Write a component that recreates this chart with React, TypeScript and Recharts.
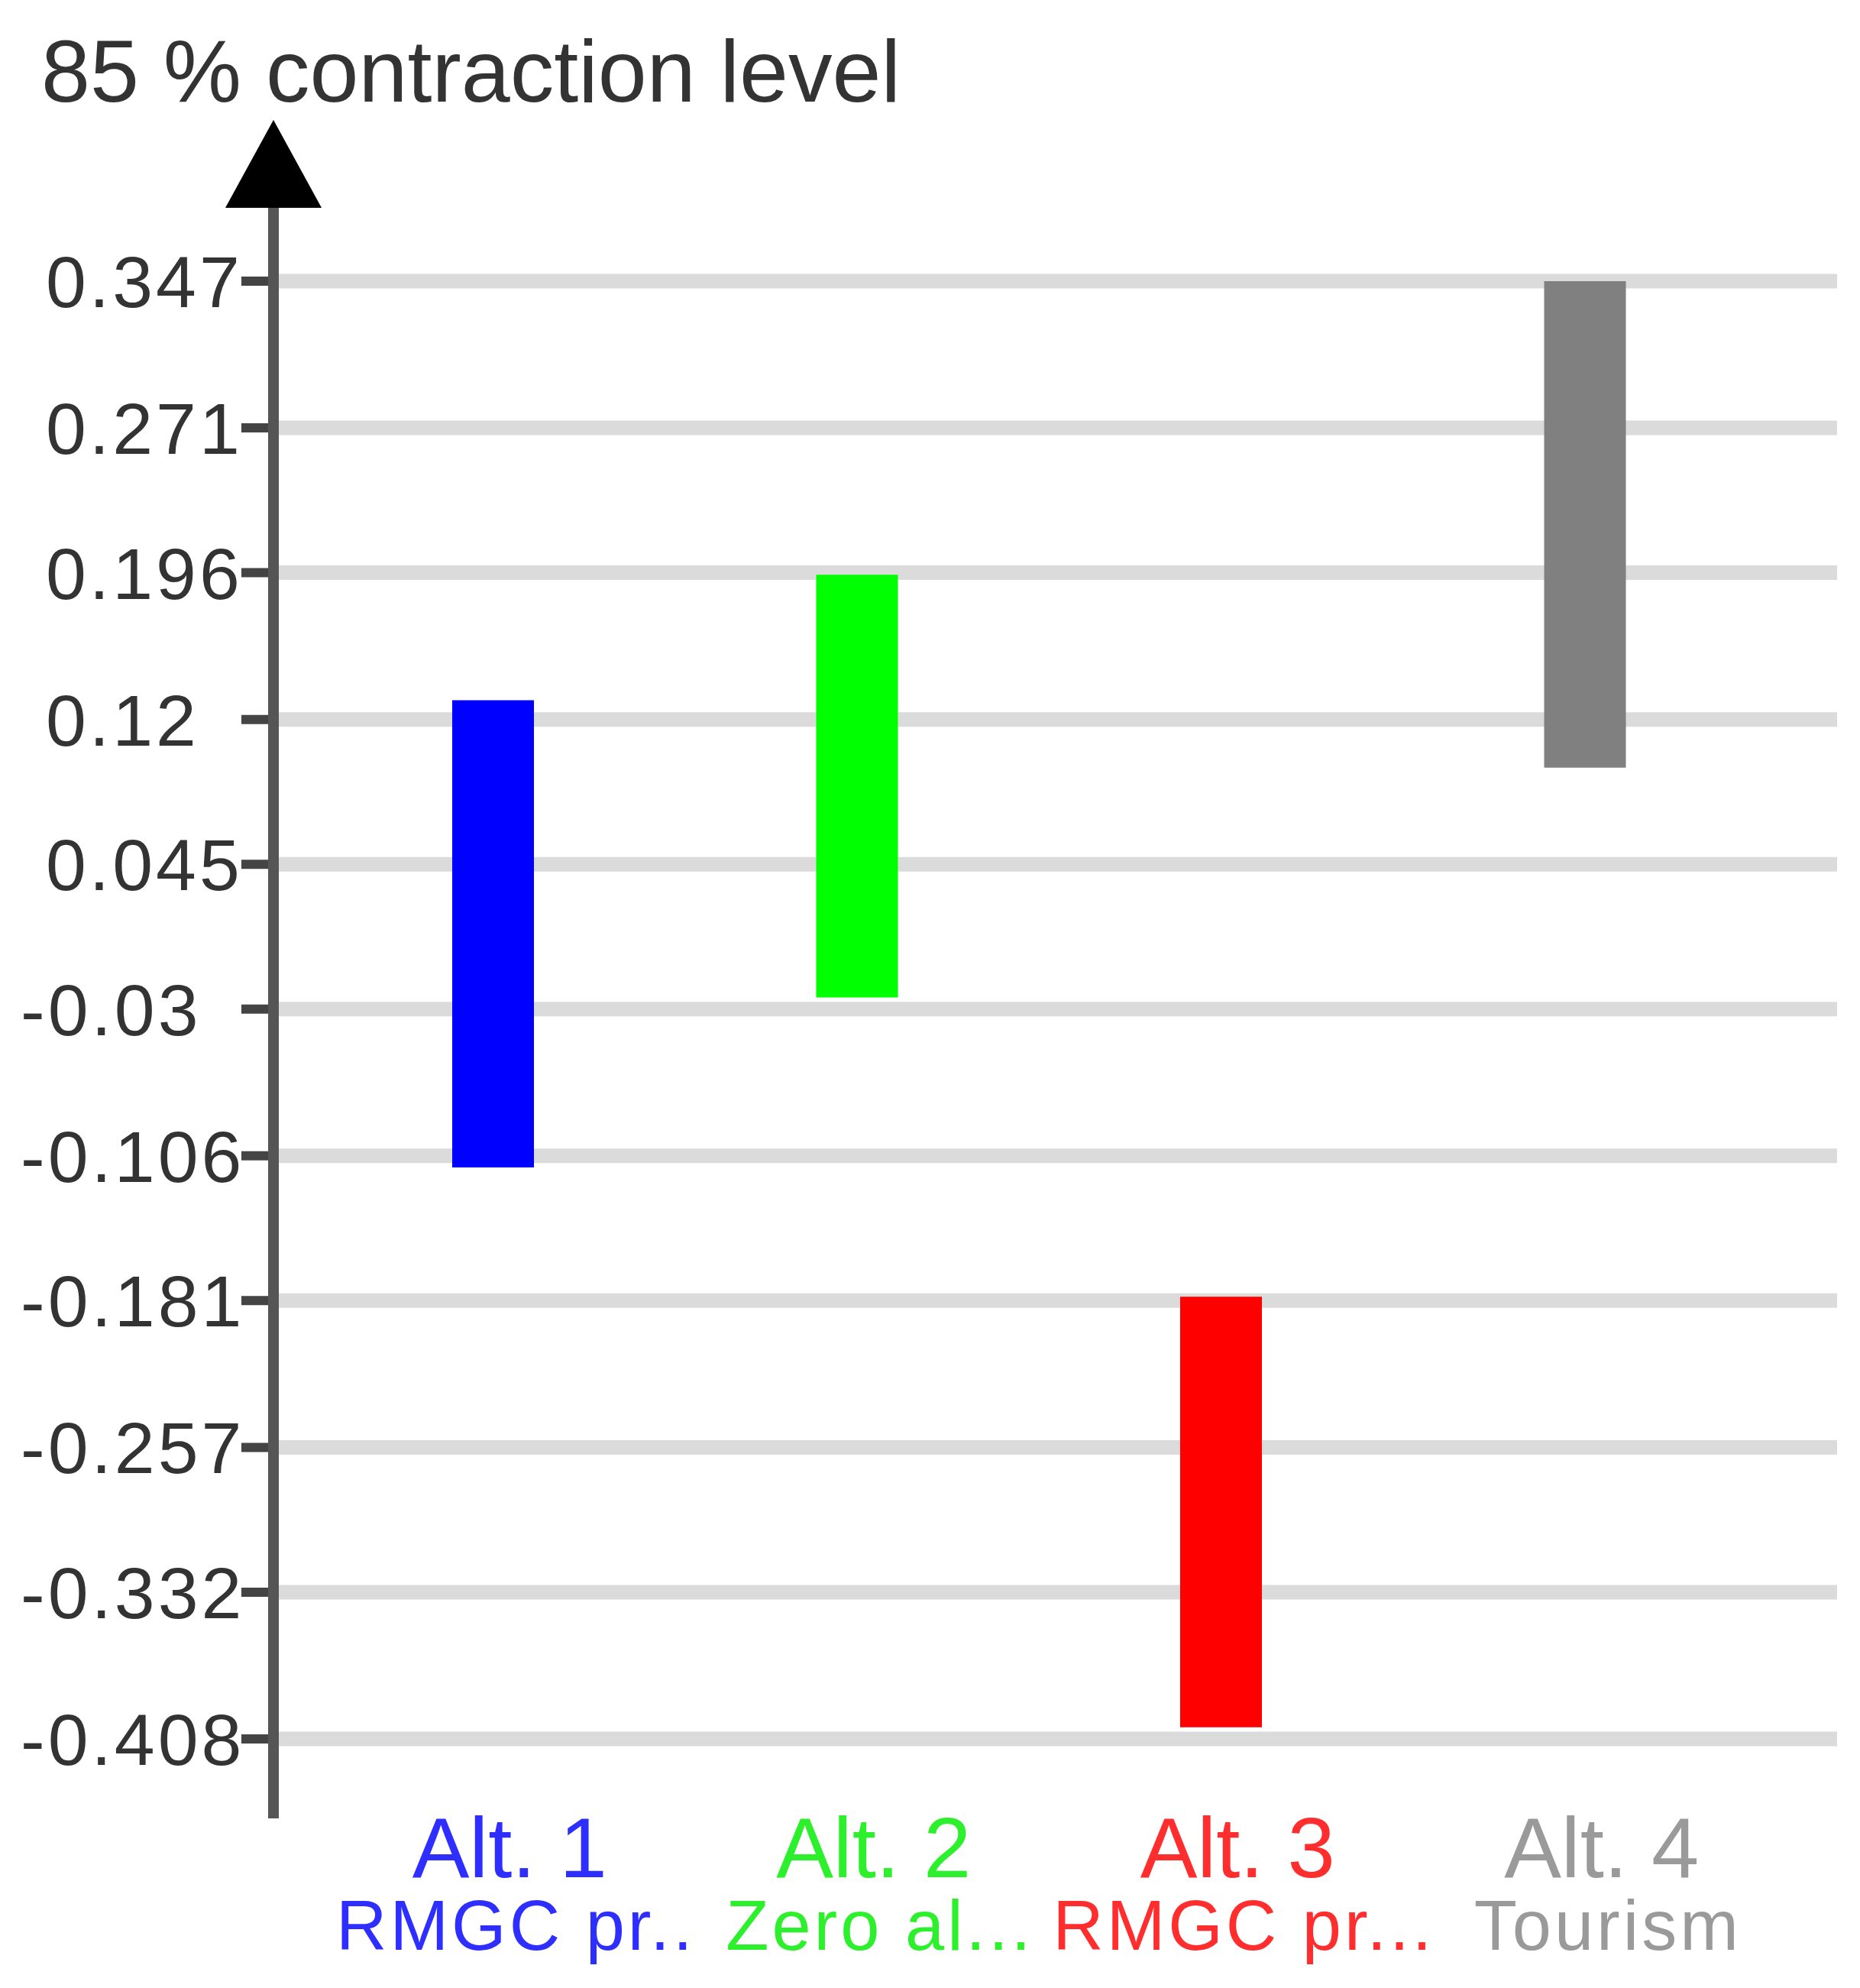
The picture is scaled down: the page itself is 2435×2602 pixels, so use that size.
import React from "react";
import { BarChart, Bar, XAxis, YAxis, CartesianGrid, Cell } from "recharts";

// Alternatives and their 85 % contraction intervals
const categories = ["Alt. 1", "Alt. 2", "Alt. 3", "Alt. 4"];
const subtitles = ["RMGC pr..", "Zero al...", "RMGC pr...", "Tourism"];
const lowValues = [-0.112, -0.024, -0.402, 0.095];
const highValues = [0.13, 0.195, -0.179, 0.347];
const yTicks = [0.347, 0.271, 0.196, 0.12, 0.045, -0.03, -0.106, -0.181, -0.257, -0.332, -0.408];

const BAR_COLORS = ["#0000ff", "#00ff00", "#ff0000", "#808080"];
const LABEL_COLORS = ["#2e2eff", "#2cf02c", "#ff2e2e", "#9a9a9a"];
const FONT = "'Liberation Sans', Arial, sans-serif";

const data = categories.map((name, i) => ({
  name,
  sub: subtitles[i],
  range: [lowValues[i], highValues[i]],
}));

// axis line with arrow head, plus the title above it
// eslint-disable-next-line @typescript-eslint/no-explicit-any
const AxisDecor = (props: any) => {
  const vb = props.viewBox || { x: 0, y: 368, width: 358, height: 1908 };
  const ax = vb.x + vb.width;
  const top = vb.y;
  const bottom = vb.y + vb.height;
  return (
    <g>
      <line x1={ax} x2={ax} y1={top - 100} y2={bottom + 104} stroke="#555" strokeWidth={14} />
      <polygon
        points={`${ax},${top - 211} ${ax - 63},${top - 96} ${ax + 63},${top - 96}`}
        fill="#000"
      />
      <text x={54} y={133} fontSize={115} fill="#333" fontFamily={FONT}>
        85 % contraction level
      </text>
    </g>
  );
};

// eslint-disable-next-line @typescript-eslint/no-explicit-any
const YTick = ({ x, y, payload }: any) => {
  const v = payload.value as number;
  const neg = v < 0;
  return (
    <text
      x={x - (neg ? 289 : 256)}
      y={y + 34}
      fontSize={95}
      letterSpacing={4}
      fill="#333"
      fontFamily={FONT}
      textAnchor="start"
    >
      {String(v)}
    </text>
  );
};

// eslint-disable-next-line @typescript-eslint/no-explicit-any
const XTick = ({ x, y, payload, index }: any) => {
  const i = index ?? categories.indexOf(payload.value);
  return (
    <g>
      <text x={x + 22} y={y + 181} fontSize={112} fill={LABEL_COLORS[i]} textAnchor="middle" fontFamily={FONT}>
        {payload.value}
      </text>
      <text
        x={x + 30}
        y={y + 276}
        fontSize={92}
        letterSpacing={4}
        fill={LABEL_COLORS[i]}
        textAnchor="middle"
        fontFamily={FONT}
      >
        {subtitles[i]}
      </text>
    </g>
  );
};

const App = () => {
  return (
    <div style={{ position: "absolute", left: 0, top: 0, background: "#fff" }}>
      <BarChart
        width={2435}
        height={2602}
        data={data}
        margin={{ top: 368, right: 30, bottom: 0, left: 0 }}
      >
        <CartesianGrid vertical={false} stroke="#dbdbdb" strokeWidth={19} />
        <XAxis
          dataKey="name"
          axisLine={false}
          tickLine={false}
          tickSize={0}
          tickMargin={0}
          height={326}
          interval={0}
          padding={{ left: 49, right: 92 }}
          tick={<XTick />}
        />
        <YAxis
          type="number"
          domain={[-0.408, 0.347]}
          ticks={yTicks}
          interval={0}
          allowDataOverflow
          width={358}
          axisLine={false}
          tickSize={42}
          tickMargin={0}
          tickLine={{ stroke: "#444", strokeWidth: 12 }}
          tick={<YTick />}
          label={<AxisDecor />}
        />
        <Bar dataKey="range" barSize={107} isAnimationActive={false}>
          {data.map((d, i) => (
            <Cell key={d.name} fill={BAR_COLORS[i]} />
          ))}
        </Bar>
      </BarChart>
    </div>
  );
};

export default App;
